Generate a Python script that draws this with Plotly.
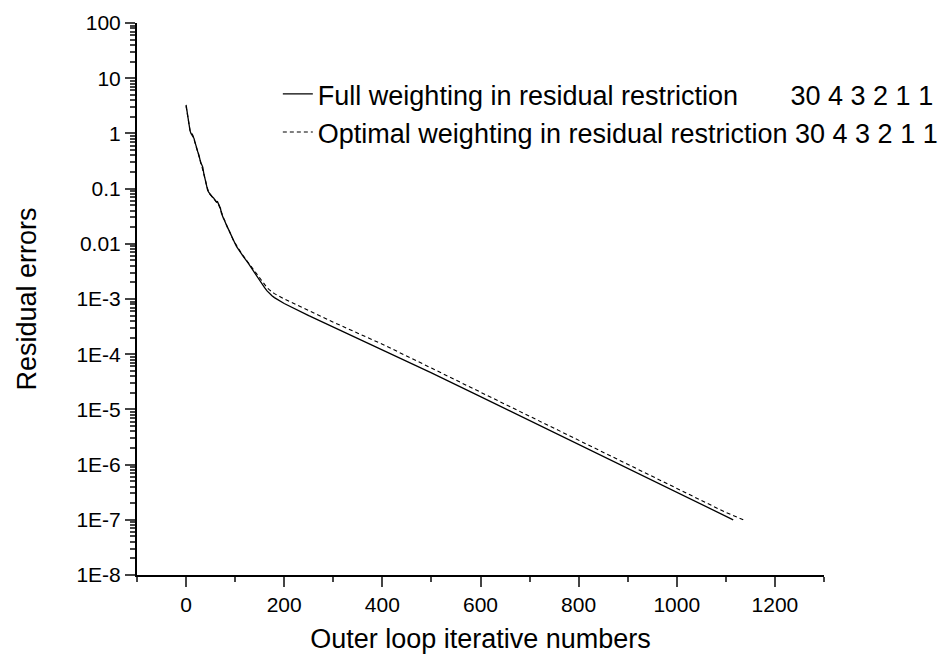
import plotly.graph_objects as go

# ---- data ----
full_iter = [0, 2, 4, 6, 8, 10, 12, 14, 16, 18, 20, 22, 24, 26, 28, 30, 32, 34, 36, 38,
             40, 42, 44, 46, 48, 50, 52, 54, 56, 58, 60, 62, 64, 66, 68, 70, 72, 74, 76, 78,
             80, 82, 84, 86, 88, 90, 92, 94, 96, 98, 100, 103, 106, 109, 112, 115, 118, 121,
             124, 127, 130, 135, 140, 145, 150, 155, 160, 165, 170, 175, 180, 200, 250, 300,
             350, 400, 500, 600, 700, 800, 900, 1000, 1100, 1115]
full_res = [3.3, 2.5, 1.8, 1.4, 1.12, 1.0, 0.94, 0.90, 0.82, 0.70, 0.58, 0.50, 0.46, 0.41,
            0.33, 0.29, 0.27, 0.245, 0.19, 0.16, 0.13, 0.105, 0.093, 0.086, 0.081, 0.078,
            0.074, 0.070, 0.068, 0.064, 0.060, 0.057, 0.058, 0.054, 0.050, 0.044, 0.036,
            0.031, 0.029, 0.027, 0.024, 0.021, 0.020, 0.0186, 0.0170, 0.0155, 0.0135,
            0.0126, 0.0119, 0.0108, 0.0100, 0.0089, 0.0080, 0.0073, 0.0068, 0.0062, 0.0056,
            0.0051, 0.0048, 0.0044, 0.0040, 0.0034, 0.0029, 0.0025, 0.0022, 0.0019, 0.0016,
            0.0014, 0.00125, 0.00115, 0.00106, 8.3e-4, 5.0e-4, 3.1e-4, 1.95e-4, 1.23e-4,
            4.6e-5, 1.7e-5, 6.3e-6, 2.3e-6, 8.5e-7, 3.15e-7, 1.16e-7, 1.0e-7]

opt_iter = [0, 2, 4, 6, 8, 10, 12, 14, 16, 18, 20, 22, 24, 26, 28, 30, 32, 34, 36, 38,
            40, 42, 44, 46, 48, 50, 52, 54, 56, 58, 60, 62, 64, 66, 68, 70, 72, 74, 76, 78,
            80, 82, 84, 86, 88, 90, 92, 94, 96, 98, 100, 103, 106, 109, 112, 115, 118, 121,
            124, 127, 130, 135, 140, 145, 150, 155, 160, 165, 170, 175, 180, 200, 250, 300,
            350, 400, 500, 600, 700, 800, 900, 1000, 1100, 1136]
opt_res = [3.1, 2.4, 1.75, 1.35, 1.15, 1.08, 1.0, 0.92, 0.80, 0.68, 0.60, 0.52, 0.47, 0.40,
           0.34, 0.30, 0.26, 0.23, 0.20, 0.165, 0.135, 0.11, 0.095, 0.088, 0.080, 0.076,
           0.073, 0.071, 0.066, 0.062, 0.061, 0.058, 0.055, 0.052, 0.047, 0.042, 0.037,
           0.032, 0.030, 0.027, 0.025, 0.022, 0.0205, 0.019, 0.0172, 0.0150, 0.0140,
           0.0128, 0.0117, 0.0110, 0.0102, 0.0091, 0.0082, 0.0075, 0.0069, 0.0063, 0.0058,
           0.0053, 0.0049, 0.0045, 0.0042, 0.0036, 0.0031, 0.0027, 0.0024, 0.0021, 0.0018,
           0.0016, 0.00146, 0.00134, 0.00125, 1.0e-3, 6.1e-4, 3.8e-4, 2.4e-4, 1.52e-4,
           5.6e-5, 2.05e-5, 7.5e-6, 2.75e-6, 1.01e-6, 3.7e-7, 1.36e-7, 1.0e-7]

full_name = "Full weighting in residual restriction" + "\u00a0" * 7 + "30 4 3 2 1 1"
opt_name = "Optimal weighting in residual restriction 30 4 3 2 1 1"

y_tickvals = [1e-8, 1e-7, 1e-6, 1e-5, 1e-4, 1e-3, 1e-2, 1e-1, 1, 10, 100]
y_ticktext = ["1E-8", "1E-7", "1E-6", "1E-5", "1E-4", "1E-3", "0.01", "0.1", "1", "10", "100"]
y_minor = [m * 10.0 ** e for e in range(-8, 2) for m in range(2, 10)]

x_tickvals = [0, 200, 400, 600, 800, 1000, 1200]
x_minor = [-100, 100, 300, 500, 700, 900, 1100, 1300]

FONT = "Liberation Sans, Arial, sans-serif"

fig = go.Figure()
fig.add_trace(go.Scatter(x=full_iter, y=full_res, mode="lines", name=full_name,
                         line=dict(color="black", width=1.3)))
fig.add_trace(go.Scatter(x=opt_iter, y=opt_res, mode="lines", name=opt_name,
                         line=dict(color="black", width=1.1, dash="4px,3px")))

fig.update_layout(
    width=939, height=658,
    margin=dict(l=137, r=115, t=23, b=83, autoexpand=False),
    paper_bgcolor="white", plot_bgcolor="white",
    font=dict(family=FONT, color="black", size=21),
    showlegend=True,
    legend=dict(x=0.205, y=0.915, xanchor="left", yanchor="top",
                font=dict(size=27, family=FONT, color="black"),
                bgcolor="rgba(0,0,0,0)", borderwidth=0, tracegroupgap=0),
    xaxis=dict(range=[-100, 1300], tickvals=x_tickvals, ticks="outside", ticklen=10,
               tickwidth=2, showline=True, linewidth=2, linecolor="black",
               showgrid=False, zeroline=False, tickfont=dict(size=21),
               title=dict(text="Outer loop iterative numbers", font=dict(size=27), standoff=14),
               minor=dict(tickvals=x_minor, ticks="outside", ticklen=5, tickwidth=2,
                          showgrid=False)),
    yaxis=dict(type="log", range=[-8, 2], tickvals=y_tickvals, ticktext=y_ticktext,
               ticks="outside", ticklen=10, tickwidth=2, showline=True, linewidth=2,
               linecolor="black", showgrid=False, zeroline=False, tickfont=dict(size=21),
               title=dict(text="Residual errors", font=dict(size=27), standoff=32),
               minor=dict(tickvals=y_minor, ticks="outside", ticklen=5, tickwidth=1.5,
                          showgrid=False)),
)

fig.write_html("out.html")
